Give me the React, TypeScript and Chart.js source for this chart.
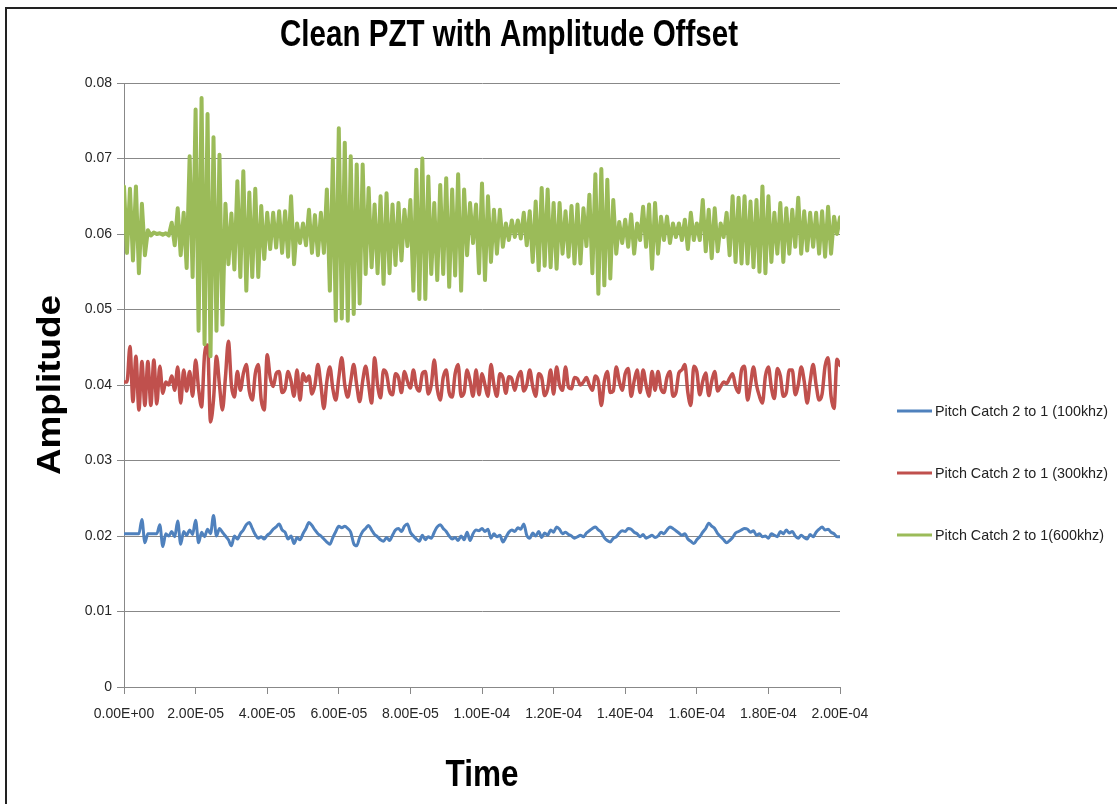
import React, { useEffect, useRef } from "react";
import { Chart, registerables } from "chart.js";

Chart.register(...registerables);

const TITLE = "Clean PZT with Amplitude Offset";
const X_TITLE = "Time";
const Y_TITLE = "Amplitude";
const SERIES_LABELS = [
  "Pitch Catch 2 to 1 (100khz)",
  "Pitch Catch 2 to 1 (300khz)",
  "Pitch Catch 2 to 1(600khz)",
];
const SERIES_COLORS = ["#4F81BD", "#C0504D", "#9BBB59"];
const SERIES_WIDTHS = [3, 3.5, 4];

const X_TICKS = [0, 2e-5, 4e-5, 6e-5, 8e-5, 1e-4, 1.2e-4, 1.4e-4, 1.6e-4, 1.8e-4, 2e-4];
const Y_TICKS = [0, 0.01, 0.02, 0.03, 0.04, 0.05, 0.06, 0.07, 0.08];

// sampling clock of the recorded signals (seconds per sample)
const SAMPLE_STEP = 2e-4 / 240;

const BLUE_100KHZ = [
  0.0203, 0.0203, 0.0203, 0.0203, 0.0203, 0.0203, 0.0222, 0.0191, 0.0203, 0.0203,
  0.0203, 0.0203, 0.0215, 0.0186, 0.0203, 0.02, 0.0206, 0.0199, 0.022, 0.0189,
  0.0206, 0.0201, 0.0208, 0.0202, 0.0221, 0.0191, 0.0205, 0.0199, 0.0209, 0.0203,
  0.0227, 0.02, 0.021, 0.0205, 0.02, 0.0195, 0.0187, 0.02, 0.0196, 0.0203,
  0.0208, 0.0215, 0.0218, 0.021, 0.0202, 0.0197, 0.0199, 0.0196, 0.0201, 0.0204,
  0.0209, 0.0212, 0.0216, 0.0208, 0.0205, 0.0196, 0.02, 0.019, 0.0198, 0.0195,
  0.0203, 0.021, 0.0218, 0.0214, 0.0208, 0.0203, 0.02, 0.0196, 0.0192, 0.0189,
  0.0198, 0.0206, 0.0213, 0.0211, 0.0213, 0.021, 0.0205, 0.019, 0.0187, 0.0198,
  0.0206, 0.021, 0.0214, 0.0208, 0.0202, 0.0199, 0.0195, 0.0193, 0.0198, 0.0194,
  0.0201, 0.0208, 0.021, 0.0206, 0.0213, 0.0216, 0.0205, 0.02, 0.0196, 0.0193,
  0.0201, 0.0195, 0.0199, 0.0197, 0.0205, 0.0212, 0.0215, 0.021, 0.0206, 0.02,
  0.0196, 0.0198, 0.0194, 0.02, 0.0195, 0.0205, 0.0194, 0.0203, 0.0208, 0.0207,
  0.021, 0.0206, 0.0209, 0.0197, 0.0203, 0.0199, 0.0201, 0.0192, 0.0198, 0.0205,
  0.0208, 0.0206, 0.0211, 0.0209, 0.0216, 0.0201, 0.0197, 0.0204, 0.02, 0.0206,
  0.0198, 0.0204, 0.0201, 0.0208, 0.0205, 0.0212, 0.0209, 0.0203, 0.0205, 0.0202,
  0.02, 0.0197, 0.0199, 0.0201, 0.0199, 0.0204, 0.0207, 0.021, 0.0212, 0.0208,
  0.0205, 0.0198, 0.0194, 0.0192, 0.0197, 0.0199, 0.0204, 0.0207, 0.0206, 0.021,
  0.0209, 0.0205, 0.0203, 0.0199, 0.0202, 0.0197, 0.0199, 0.0201, 0.0198, 0.02,
  0.0205, 0.0203, 0.0208, 0.0212, 0.021, 0.0207, 0.0204, 0.0201, 0.0203, 0.0196,
  0.0193, 0.019, 0.0195, 0.0199, 0.0205, 0.021, 0.0217, 0.0213, 0.021, 0.0203,
  0.0199, 0.0195, 0.0191, 0.0194, 0.0198, 0.0204, 0.0206, 0.0208, 0.021, 0.0209,
  0.0205, 0.0207, 0.0201, 0.0203, 0.0199, 0.02, 0.0197, 0.0203, 0.0201, 0.0199,
  0.0206, 0.0203, 0.0208, 0.0204, 0.0206, 0.02, 0.0197, 0.0201, 0.0198, 0.0196,
  0.0202, 0.0199, 0.0205, 0.0209, 0.0212, 0.0208, 0.0209, 0.0205, 0.0203, 0.0199,
  0.0199,
];

const RED_300KHZ = [
  0.0404, 0.0404, 0.0451, 0.0378, 0.0438, 0.0367, 0.0431, 0.0373, 0.0431, 0.0373,
  0.0433, 0.0375, 0.0425, 0.0389, 0.0404, 0.04, 0.0412, 0.0393, 0.0424, 0.0376,
  0.042, 0.0392, 0.0418, 0.0385, 0.0433, 0.0395, 0.0371, 0.044, 0.0453, 0.0351,
  0.038, 0.0438, 0.04, 0.0367, 0.041, 0.0458, 0.04, 0.0384, 0.0418, 0.0393,
  0.0415, 0.0427, 0.0392, 0.038, 0.0415, 0.0427, 0.038, 0.0367, 0.044, 0.041,
  0.0398, 0.0415, 0.0418, 0.039, 0.0395, 0.0418, 0.0405, 0.0385, 0.042, 0.038,
  0.0415, 0.0405, 0.0412, 0.0388, 0.04, 0.0427, 0.04, 0.0369, 0.0405, 0.0424,
  0.0395, 0.038, 0.041, 0.0436, 0.04, 0.0384, 0.0405, 0.0427, 0.04, 0.0378,
  0.0405, 0.0425, 0.04, 0.0376, 0.0436, 0.04, 0.0383, 0.042, 0.0415, 0.0392,
  0.0387, 0.0415, 0.041, 0.039, 0.0418, 0.0405, 0.0396, 0.042, 0.0398, 0.0392,
  0.0415, 0.0418, 0.0388, 0.04, 0.0433, 0.0395, 0.038, 0.041, 0.042, 0.039,
  0.0384, 0.0415, 0.0427, 0.0385, 0.039, 0.042, 0.0405, 0.0385, 0.042, 0.0387,
  0.0415, 0.04, 0.0385, 0.0427, 0.04, 0.0385, 0.0415, 0.041, 0.0389, 0.0411,
  0.0408, 0.0393, 0.041, 0.0418, 0.0392, 0.04, 0.042, 0.0398, 0.0385, 0.0415,
  0.041, 0.0386, 0.0395, 0.042, 0.0388, 0.0424, 0.04, 0.0393, 0.0424, 0.0397,
  0.0395, 0.041, 0.0408, 0.04, 0.0404, 0.041, 0.04, 0.0393, 0.0412, 0.0405,
  0.0373, 0.0405, 0.0418, 0.039, 0.0392, 0.0424, 0.0405, 0.0393, 0.0415, 0.0422,
  0.0385, 0.0405, 0.042, 0.039, 0.042, 0.04, 0.0385, 0.0418, 0.0393, 0.0418,
  0.0395, 0.039, 0.041, 0.0418, 0.0385, 0.039, 0.0416, 0.042, 0.0427, 0.039,
  0.0373, 0.0425, 0.0418, 0.0387, 0.0405, 0.0416, 0.0386, 0.0405, 0.0418, 0.0392,
  0.0398, 0.0404, 0.0402, 0.0409, 0.0415, 0.0398, 0.039, 0.042, 0.0425, 0.038,
  0.04, 0.0424, 0.04, 0.0385, 0.0376, 0.0412, 0.0424, 0.0396, 0.0382, 0.0422,
  0.0412, 0.0385, 0.039, 0.042, 0.042, 0.0387, 0.04, 0.0424, 0.0405, 0.0376,
  0.0405, 0.0427, 0.04, 0.038, 0.0388, 0.0425, 0.0436, 0.0385, 0.0369, 0.0434,
  0.0426,
];

const GREEN_600KHZ = [
  0.0663, 0.0575, 0.066, 0.0565, 0.0663, 0.0548, 0.064, 0.0572, 0.0605, 0.0598,
  0.0602, 0.06, 0.0601, 0.0599, 0.0601, 0.0598, 0.0615, 0.0585, 0.0634, 0.0572,
  0.0628, 0.0555, 0.0703, 0.0543, 0.0765, 0.0472, 0.078, 0.0454, 0.0759, 0.0438,
  0.0728, 0.0472, 0.0705, 0.048, 0.064, 0.056, 0.0627, 0.0553, 0.067, 0.0543,
  0.0683, 0.0525, 0.0655, 0.0543, 0.066, 0.0543, 0.0637, 0.0567, 0.0628, 0.058,
  0.0628, 0.0582, 0.063, 0.0575, 0.063, 0.057, 0.065, 0.056, 0.0614, 0.0588,
  0.0614, 0.0585, 0.0632, 0.0575, 0.0625, 0.0572, 0.0628, 0.0575, 0.0659, 0.0525,
  0.0699, 0.0485, 0.074, 0.0488, 0.0721, 0.0485, 0.0703, 0.0494, 0.0692, 0.0508,
  0.0692, 0.0547, 0.0661, 0.0556, 0.0639, 0.0548, 0.065, 0.0534, 0.0654, 0.0548,
  0.0639, 0.0559, 0.0641, 0.0565, 0.0632, 0.0584, 0.0645, 0.0525, 0.0685, 0.0514,
  0.07, 0.0514, 0.0676, 0.0547, 0.0641, 0.0539, 0.0665, 0.0547, 0.0674, 0.053,
  0.0659, 0.0545, 0.0679, 0.0525, 0.0659, 0.0572, 0.0641, 0.0588, 0.0639, 0.0548,
  0.0667, 0.0539, 0.065, 0.0563, 0.0632, 0.0574, 0.0632, 0.0583, 0.0614, 0.0592,
  0.0618, 0.0596, 0.0618, 0.0594, 0.0628, 0.0585, 0.063, 0.0563, 0.0643, 0.0552,
  0.0661, 0.0558, 0.0659, 0.0556, 0.0641, 0.0554, 0.0641, 0.0574, 0.063, 0.057,
  0.0637, 0.0561, 0.0639, 0.0561, 0.0634, 0.0584, 0.0652, 0.0548, 0.0679, 0.0521,
  0.0686, 0.0532, 0.0672, 0.0541, 0.0645, 0.0574, 0.0616, 0.0588, 0.0619, 0.0583,
  0.0626, 0.0574, 0.0614, 0.0592, 0.0636, 0.0583, 0.0639, 0.0554, 0.0641, 0.0574,
  0.0623, 0.0592, 0.0623, 0.0588, 0.0614, 0.0596, 0.0614, 0.0592, 0.0619, 0.058,
  0.0628, 0.0592, 0.0614, 0.0592, 0.0645, 0.0577, 0.0632, 0.0568, 0.0634, 0.0577,
  0.0614, 0.0596, 0.0628, 0.0572, 0.065, 0.0563, 0.0648, 0.0561, 0.065, 0.0561,
  0.0643, 0.0556, 0.0645, 0.055, 0.0663, 0.0548, 0.065, 0.0563, 0.0628, 0.0574,
  0.0641, 0.0563, 0.0634, 0.0574, 0.0632, 0.0583, 0.0648, 0.0574, 0.063, 0.0578,
  0.0628, 0.0583, 0.0628, 0.0574, 0.063, 0.057, 0.0636, 0.0574, 0.0623, 0.06,
  0.0622,
];

const SERIES_VALUES = [BLUE_100KHZ, RED_300KHZ, GREEN_600KHZ];

const FONT = "'Liberation Sans', Arial, sans-serif";

function sciLabel(v: number): string {
  const [mant, exp] = Number(v).toExponential(2).split("e");
  const sign = exp[0] === "-" ? "-" : "+";
  const digits = exp.replace(/^[+-]/, "").padStart(2, "0");
  return `${mant}E${sign}${digits}`;
}

function fitText(
  ctx: CanvasRenderingContext2D,
  text: string,
  x: number,
  y: number,
  font: string,
  width: number,
  align: CanvasTextAlign,
  rotation: number
) {
  ctx.save();
  ctx.font = font;
  const w = ctx.measureText(text).width;
  ctx.translate(x, y);
  if (rotation) ctx.rotate(rotation);
  ctx.scale(width / w, 1);
  ctx.textAlign = align;
  ctx.textBaseline = "alphabetic";
  ctx.fillText(text, 0, 0);
  ctx.restore();
}

const textPlugin = {
  id: "excelTexts",
  afterDraw(chart: any) {
    const ctx: CanvasRenderingContext2D = chart.ctx;
    const area = chart.chartArea;
    ctx.save();
    ctx.fillStyle = "#000";
    fitText(ctx, TITLE, 509, 46, `bold 37px ${FONT}`, 458, "center", 0);
    fitText(ctx, Y_TITLE, 60, (area.top + area.bottom) / 2, `bold 34px ${FONT}`, 180, "center", -Math.PI / 2);
    fitText(ctx, X_TITLE, (area.left + area.right) / 2, 786, `bold 36px ${FONT}`, 73, "center", 0);

    // legend
    const legendY = [411, 473, 535];
    ctx.font = `15px ${FONT}`;
    const sx = 173 / ctx.measureText(SERIES_LABELS[1]).width;
    chart.data.datasets.forEach((ds: any, i: number) => {
      const y = legendY[i];
      ctx.strokeStyle = ds.borderColor;
      ctx.lineWidth = 3;
      ctx.lineCap = "butt";
      ctx.beginPath();
      ctx.moveTo(897, y);
      ctx.lineTo(932, y);
      ctx.stroke();
      ctx.save();
      ctx.fillStyle = "#222";
      ctx.font = `15px ${FONT}`;
      ctx.translate(935, y + 5);
      ctx.scale(sx, 1);
      ctx.textAlign = "left";
      ctx.fillText(ds.label, 0, 0);
      ctx.restore();
    });
    ctx.restore();
  },
};

export default function App() {
  const canvasRef = useRef<HTMLCanvasElement | null>(null);

  useEffect(() => {
    const canvas = canvasRef.current;
    if (!canvas) return;
    const datasets = SERIES_VALUES.map((vals, i) => ({
      label: SERIES_LABELS[i],
      data: vals.map((v, k) => ({ x: k * SAMPLE_STEP, y: v })),
      borderColor: SERIES_COLORS[i],
      backgroundColor: SERIES_COLORS[i],
      borderWidth: SERIES_WIDTHS[i],
      borderJoinStyle: "round",
      borderCapStyle: "round",
      pointRadius: 0,
      tension: 0,
      cubicInterpolationMode: i < 2 ? "monotone" : "default",
      fill: false,
      order: 2 - i,
    }));

    const chart = new Chart(canvas, {
      type: "line",
      data: { datasets },
      plugins: [textPlugin],
      options: {
        animation: false,
        responsive: false,
        maintainAspectRatio: false,
        layout: { padding: { left: 0, top: 83, right: 277, bottom: 0 }, autoPadding: false },
        plugins: {
          legend: { display: false },
          title: { display: false },
          tooltip: { enabled: false },
        },
        scales: {
          x: {
            type: "linear",
            min: X_TICKS[0],
            max: X_TICKS[X_TICKS.length - 1],
            afterFit: (s: any) => {
              s.height = 117;
            },
            afterBuildTicks: (s: any) => {
              s.ticks = X_TICKS.map((v) => ({ value: v }));
            },
            ticks: {
              autoSkip: false,
              maxRotation: 0,
              minRotation: 0,
              padding: 12,
              color: "#262626",
              font: { family: FONT, size: 14 },
              callback: (v: any) => sciLabel(Number(v)),
            },
            grid: {
              display: true,
              drawOnChartArea: false,
              drawTicks: true,
              tickLength: 7,
              color: "#888",
              tickColor: "#888",
            },
            border: { display: true, color: "#888", width: 1 },
          },
          y: {
            type: "linear",
            min: Y_TICKS[0],
            max: Y_TICKS[Y_TICKS.length - 1],
            afterFit: (s: any) => {
              s.width = 124;
            },
            afterBuildTicks: (s: any) => {
              s.ticks = Y_TICKS.map((v) => ({ value: v }));
            },
            ticks: {
              padding: 5,
              color: "#262626",
              font: { family: FONT, size: 14 },
              callback: (v: any) => (Number(v) === 0 ? "0" : Number(v).toFixed(2)),
            },
            grid: {
              display: true,
              drawTicks: true,
              tickLength: 7,
              color: "#888",
              tickColor: "#888",
            },
            border: { display: true, color: "#888", width: 1 },
          },
        },
      } as any,
    });
    return () => chart.destroy();
  }, []);

  return (
    <div
      style={{
        position: "fixed",
        left: 0,
        top: 0,
        width: 1117,
        height: 804,
        overflow: "hidden",
        background: "#fff",
      }}
    >
      <div
        style={{
          position: "absolute",
          left: 5,
          top: 7,
          width: 1200,
          height: 900,
          borderLeft: "2px solid #222",
          borderTop: "2px solid #222",
        }}
      />
      <canvas
        ref={canvasRef}
        width={1117}
        height={804}
        style={{ position: "absolute", left: 0, top: 0, width: 1117, height: 804 }}
      />
    </div>
  );
}
